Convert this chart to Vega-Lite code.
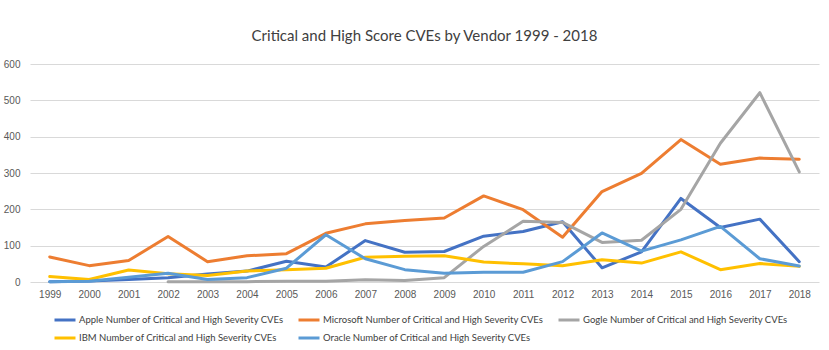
{
  "$schema": "https://vega.github.io/schema/vega-lite/v6.json",
  "autosize": {"type": "none"},
  "width": 789,
  "height": 218,
  "padding": {"left": 30, "top": 64, "right": 10, "bottom": 68},
  "background": "white",
  "title": {
    "text": "Critical and High Score CVEs by Vendor 1999 - 2018",
    "font": "Lato",
    "fontSize": 15,
    "fontWeight": "normal",
    "color": "#404040",
    "anchor": "middle",
    "offset": 15
  },
  "data": {
    "values": [
      {"year": "1999", "vendor": "Apple", "value": 1},
      {"year": "2000", "vendor": "Apple", "value": 3},
      {"year": "2001", "vendor": "Apple", "value": 7},
      {"year": "2002", "vendor": "Apple", "value": 12},
      {"year": "2003", "vendor": "Apple", "value": 22},
      {"year": "2004", "vendor": "Apple", "value": 30},
      {"year": "2005", "vendor": "Apple", "value": 57},
      {"year": "2006", "vendor": "Apple", "value": 41},
      {"year": "2007", "vendor": "Apple", "value": 114},
      {"year": "2008", "vendor": "Apple", "value": 82},
      {"year": "2009", "vendor": "Apple", "value": 84},
      {"year": "2010", "vendor": "Apple", "value": 126},
      {"year": "2011", "vendor": "Apple", "value": 139},
      {"year": "2012", "vendor": "Apple", "value": 166},
      {"year": "2013", "vendor": "Apple", "value": 39},
      {"year": "2014", "vendor": "Apple", "value": 83},
      {"year": "2015", "vendor": "Apple", "value": 230},
      {"year": "2016", "vendor": "Apple", "value": 150},
      {"year": "2017", "vendor": "Apple", "value": 173},
      {"year": "2018", "vendor": "Apple", "value": 56},
      {"year": "1999", "vendor": "Microsoft", "value": 69},
      {"year": "2000", "vendor": "Microsoft", "value": 45},
      {"year": "2001", "vendor": "Microsoft", "value": 59},
      {"year": "2002", "vendor": "Microsoft", "value": 125},
      {"year": "2003", "vendor": "Microsoft", "value": 56},
      {"year": "2004", "vendor": "Microsoft", "value": 72},
      {"year": "2005", "vendor": "Microsoft", "value": 78},
      {"year": "2006", "vendor": "Microsoft", "value": 134},
      {"year": "2007", "vendor": "Microsoft", "value": 160},
      {"year": "2008", "vendor": "Microsoft", "value": 169},
      {"year": "2009", "vendor": "Microsoft", "value": 176},
      {"year": "2010", "vendor": "Microsoft", "value": 237},
      {"year": "2011", "vendor": "Microsoft", "value": 199},
      {"year": "2012", "vendor": "Microsoft", "value": 123},
      {"year": "2013", "vendor": "Microsoft", "value": 249},
      {"year": "2014", "vendor": "Microsoft", "value": 299},
      {"year": "2015", "vendor": "Microsoft", "value": 392},
      {"year": "2016", "vendor": "Microsoft", "value": 324},
      {"year": "2017", "vendor": "Microsoft", "value": 341},
      {"year": "2018", "vendor": "Microsoft", "value": 338},
      {"year": "2002", "vendor": "Gogle", "value": 1},
      {"year": "2003", "vendor": "Gogle", "value": 1},
      {"year": "2004", "vendor": "Gogle", "value": 1},
      {"year": "2005", "vendor": "Gogle", "value": 2},
      {"year": "2006", "vendor": "Gogle", "value": 2},
      {"year": "2007", "vendor": "Gogle", "value": 6},
      {"year": "2008", "vendor": "Gogle", "value": 4},
      {"year": "2009", "vendor": "Gogle", "value": 12},
      {"year": "2010", "vendor": "Gogle", "value": 98},
      {"year": "2011", "vendor": "Gogle", "value": 167},
      {"year": "2012", "vendor": "Gogle", "value": 164},
      {"year": "2013", "vendor": "Gogle", "value": 109},
      {"year": "2014", "vendor": "Gogle", "value": 115},
      {"year": "2015", "vendor": "Gogle", "value": 200},
      {"year": "2016", "vendor": "Gogle", "value": 382},
      {"year": "2017", "vendor": "Gogle", "value": 521},
      {"year": "2018", "vendor": "Gogle", "value": 303},
      {"year": "1999", "vendor": "IBM", "value": 15},
      {"year": "2000", "vendor": "IBM", "value": 7},
      {"year": "2001", "vendor": "IBM", "value": 33},
      {"year": "2002", "vendor": "IBM", "value": 23},
      {"year": "2003", "vendor": "IBM", "value": 18},
      {"year": "2004", "vendor": "IBM", "value": 30},
      {"year": "2005", "vendor": "IBM", "value": 34},
      {"year": "2006", "vendor": "IBM", "value": 38},
      {"year": "2007", "vendor": "IBM", "value": 68},
      {"year": "2008", "vendor": "IBM", "value": 71},
      {"year": "2009", "vendor": "IBM", "value": 72},
      {"year": "2010", "vendor": "IBM", "value": 55},
      {"year": "2011", "vendor": "IBM", "value": 50},
      {"year": "2012", "vendor": "IBM", "value": 45},
      {"year": "2013", "vendor": "IBM", "value": 61},
      {"year": "2014", "vendor": "IBM", "value": 52},
      {"year": "2015", "vendor": "IBM", "value": 83},
      {"year": "2016", "vendor": "IBM", "value": 34},
      {"year": "2017", "vendor": "IBM", "value": 51},
      {"year": "2018", "vendor": "IBM", "value": 43},
      {"year": "1999", "vendor": "Oracle", "value": 1},
      {"year": "2000", "vendor": "Oracle", "value": 2},
      {"year": "2001", "vendor": "Oracle", "value": 13},
      {"year": "2002", "vendor": "Oracle", "value": 24},
      {"year": "2003", "vendor": "Oracle", "value": 7},
      {"year": "2004", "vendor": "Oracle", "value": 12},
      {"year": "2005", "vendor": "Oracle", "value": 38},
      {"year": "2006", "vendor": "Oracle", "value": 130},
      {"year": "2007", "vendor": "Oracle", "value": 64},
      {"year": "2008", "vendor": "Oracle", "value": 34},
      {"year": "2009", "vendor": "Oracle", "value": 24},
      {"year": "2010", "vendor": "Oracle", "value": 27},
      {"year": "2011", "vendor": "Oracle", "value": 27},
      {"year": "2012", "vendor": "Oracle", "value": 56},
      {"year": "2013", "vendor": "Oracle", "value": 135},
      {"year": "2014", "vendor": "Oracle", "value": 85},
      {"year": "2015", "vendor": "Oracle", "value": 116},
      {"year": "2016", "vendor": "Oracle", "value": 153},
      {"year": "2017", "vendor": "Oracle", "value": 64},
      {"year": "2018", "vendor": "Oracle", "value": 44}
    ]
  },
  "transform": [
    {"calculate": "datum.vendor + ' Number of Critical and High Severity CVEs'", "as": "series"}
  ],
  "mark": {"type": "line", "strokeWidth": 3, "strokeCap": "round", "strokeJoin": "round"},
  "encoding": {
    "x": {
      "field": "year",
      "type": "ordinal",
      "scale": {"type": "point", "padding": 0.5},
      "axis": {
        "title": null,
        "labelAngle": 0,
        "ticks": false,
        "domain": false,
        "labelFont": "Liberation Sans",
        "labelFontSize": 10,
        "labelColor": "#595959",
        "labelPadding": 7
      }
    },
    "y": {
      "field": "value",
      "type": "quantitative",
      "scale": {"domain": [0, 600]},
      "axis": {
        "title": null,
        "values": [0, 100, 200, 300, 400, 500, 600],
        "ticks": false,
        "domain": false,
        "gridColor": "#D9D9D9",
        "gridWidth": 1,
        "labelFont": "Liberation Sans",
        "labelFontSize": 10,
        "labelColor": "#595959",
        "labelPadding": 10
      }
    },
    "color": {
      "field": "series",
      "type": "nominal",
      "scale": {
        "domain": [
          "Apple Number of Critical and High Severity CVEs",
          "Microsoft Number of Critical and High Severity CVEs",
          "Gogle Number of Critical and High Severity CVEs",
          "IBM Number of Critical and High Severity CVEs",
          "Oracle Number of Critical and High Severity CVEs"
        ],
        "range": ["#4472C4", "#ED7D31", "#A5A5A5", "#FFC000", "#5B9BD5"]
      },
      "legend": {
        "title": null,
        "orient": "none",
        "legendX": 23,
        "legendY": 244,
        "direction": "horizontal",
        "columns": 3,
        "symbolType": "stroke",
        "symbolSize": 441,
        "symbolStrokeWidth": 3,
        "labelFont": "Lato",
        "labelFontSize": 9.5,
        "labelColor": "#404040",
        "labelLimit": 400,
        "columnPadding": 8,
        "rowPadding": 0,
        "labelOffset": 2
      }
    }
  },
  "config": {"view": {"stroke": null}}
}
